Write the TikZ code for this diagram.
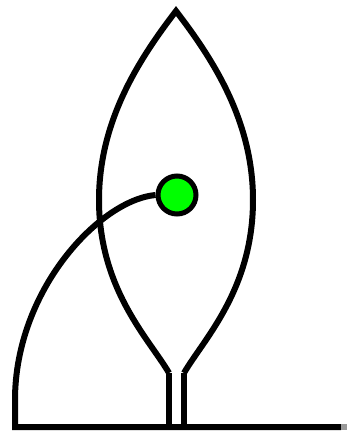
\documentclass[tikz,border=0pt]{standalone}
\begin{document}
\begin{tikzpicture}[x=1pt,y=-1pt,
  thick line/.style={line width=6pt,black,line join=miter},
  bulbstyle/.style={circle,draw=black,line width=5pt,fill=green,minimum size=38pt,inner sep=0pt}]
\useasboundingbox (0,0) rectangle (353,432);
\fill[white] (0,0) rectangle (353,432);
% leaf / lens outline
\coordinate (apex) at (176,11);
\coordinate (stemL) at (169,373);
\coordinate (stemR) at (184,373);
\coordinate (groundL) at (15,427);
\coordinate (groundR) at (341,427);
\draw[thick line] (stemL) .. controls (150,340) and (99,290) .. (99,200)
  .. controls (99,120) and (140,58) .. (apex)
  .. controls (212,58) and (253,120) .. (253,200)
  .. controls (253,290) and (203,340) .. (stemR);
% stem
\draw[thick line] (stemL) -- (169,427);
\draw[thick line] (stemR) -- (184,427);
% bulb
\node[bulbstyle] (bulb) at (177,195) {};
% arc and ground
\draw[thick line] (bulb.west) .. controls (100,200) and (15,290) .. (15,400) -- (groundL) -- (groundR);
\draw[line width=6pt,black!40] (groundR) -- (347,427);
\end{tikzpicture}
\end{document}
